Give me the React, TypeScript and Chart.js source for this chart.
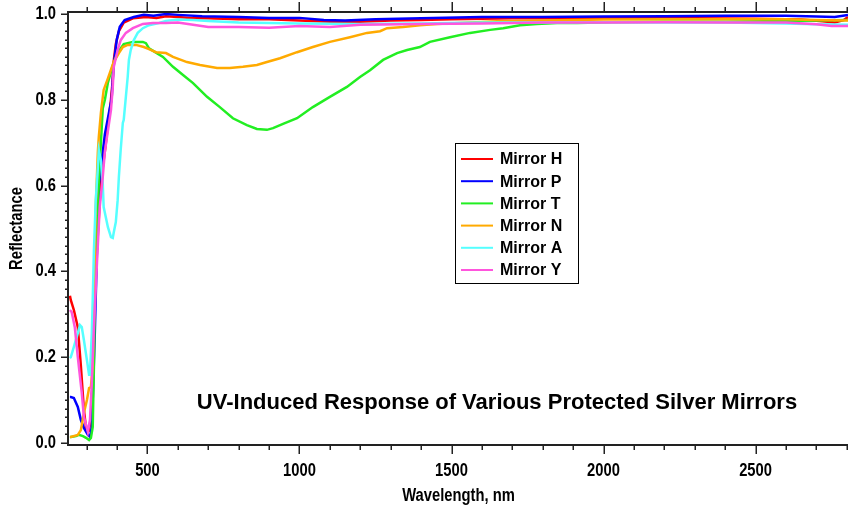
import React, { useEffect, useRef } from 'react';
import { Chart, registerables } from 'chart.js';

Chart.register(...registerables);

// ---------- data ----------
const seriesNames = ['Mirror H', 'Mirror P', 'Mirror T', 'Mirror N', 'Mirror A', 'Mirror Y'];
const seriesColors = ['#ff0000', '#0000ff', '#22ee22', '#ffaa00', '#55ffff', '#ff55dd'];

const wlH = [245, 248, 258, 271, 281, 291, 298, 308, 314, 320, 324, 327, 334, 347, 360, 370, 380, 385, 389, 396, 406, 422, 452, 495, 530, 561, 600, 650, 700, 800, 900, 1000, 1100, 1200, 1300, 1400, 1500, 1700, 2000, 2300, 2500, 2650, 2720, 2760, 2790, 2804];
const rH = [0.343, 0.333, 0.31, 0.27, 0.18, 0.077, 0.035, 0.03, 0.06, 0.14, 0.26, 0.33, 0.45, 0.61, 0.68, 0.74, 0.8, 0.84, 0.89, 0.93, 0.96, 0.98, 0.99, 0.993, 0.991, 0.995, 0.993, 0.99, 0.99, 0.988, 0.988, 0.985, 0.982, 0.982, 0.985, 0.986, 0.988, 0.99, 0.99, 0.99, 0.989, 0.987, 0.983, 0.98, 0.986, 0.993];

const wlP = [245, 248, 258, 271, 281, 291, 304, 311, 317, 320, 327, 334, 340, 360, 376, 382, 389, 399, 409, 425, 455, 488, 520, 561, 600, 680, 800, 900, 1000, 1080, 1150, 1250, 1400, 1600, 1800, 2000, 2200, 2400, 2600, 2700, 2760, 2804];
const rP = [0.107, 0.107, 0.105, 0.084, 0.054, 0.035, 0.019, 0.014, 0.037, 0.1, 0.26, 0.45, 0.6, 0.72, 0.78, 0.8, 0.88, 0.94, 0.97, 0.986, 0.993, 0.998, 0.996, 1.0, 0.998, 0.995, 0.993, 0.991, 0.991, 0.986, 0.985, 0.988, 0.99, 0.993, 0.993, 0.994, 0.995, 0.996, 0.996, 0.994, 0.993, 0.998];

const wlT = [245, 248, 265, 274, 288, 298, 308, 314, 320, 324, 327, 330, 337, 340, 353, 360, 370, 386, 402, 422, 452, 485, 495, 505, 528, 551, 584, 617, 650, 696, 738, 781, 827, 860, 893, 913, 946, 992, 1044, 1100, 1156, 1199, 1232, 1275, 1321, 1354, 1396, 1429, 1495, 1561, 1627, 1670, 1725, 1781, 1847, 1913, 2021, 2200, 2400, 2600, 2700, 2804];
const rT = [0.014, 0.014, 0.016, 0.019, 0.016, 0.012, 0.007, 0.012, 0.037, 0.18, 0.33, 0.45, 0.53, 0.61, 0.78, 0.8, 0.84, 0.88, 0.91, 0.93, 0.935, 0.935, 0.932, 0.92, 0.91, 0.9, 0.877, 0.858, 0.839, 0.807, 0.783, 0.757, 0.741, 0.732, 0.73, 0.734, 0.744, 0.757, 0.783, 0.807, 0.83, 0.853, 0.869, 0.893, 0.909, 0.916, 0.923, 0.935, 0.946, 0.956, 0.963, 0.967, 0.974, 0.977, 0.979, 0.979, 0.981, 0.982, 0.982, 0.984, 0.985, 0.986];

const wlN = [245, 248, 271, 281, 291, 301, 308, 314, 320, 324, 330, 337, 340, 347, 356, 370, 380, 389, 406, 419, 435, 462, 488, 505, 528, 561, 584, 630, 673, 729, 771, 814, 860, 893, 936, 992, 1044, 1100, 1166, 1222, 1265, 1288, 1341, 1396, 1452, 1528, 1650, 1800, 2000, 2200, 2400, 2600, 2700, 2804];
const rN = [0.014, 0.014, 0.019, 0.03, 0.07, 0.1, 0.128, 0.13, 0.18, 0.33, 0.55, 0.68, 0.713, 0.77, 0.823, 0.85, 0.87, 0.888, 0.909, 0.923, 0.928, 0.928, 0.923, 0.918, 0.911, 0.909, 0.9, 0.888, 0.881, 0.874, 0.874, 0.877, 0.881, 0.888, 0.897, 0.911, 0.923, 0.935, 0.946, 0.956, 0.96, 0.967, 0.97, 0.974, 0.977, 0.979, 0.983, 0.985, 0.987, 0.988, 0.988, 0.988, 0.986, 0.985];

const wlA = [245, 248, 258, 271, 278, 284, 291, 301, 308, 311, 317, 320, 324, 330, 337, 340, 347, 353, 356, 370, 380, 386, 389, 396, 402, 406, 412, 419, 422, 429, 435, 439, 445, 455, 468, 485, 505, 538, 561, 600, 650, 700, 800, 900, 1000, 1200, 1400, 1600, 1800, 2000, 2200, 2400, 2600, 2700, 2804];
const rA = [0.198, 0.2, 0.224, 0.256, 0.275, 0.27, 0.24, 0.193, 0.159, 0.163, 0.256, 0.333, 0.45, 0.566, 0.643, 0.683, 0.66, 0.606, 0.55, 0.503, 0.48, 0.478, 0.49, 0.515, 0.566, 0.62, 0.683, 0.746, 0.753, 0.807, 0.853, 0.893, 0.916, 0.939, 0.956, 0.967, 0.974, 0.979, 0.984, 0.987, 0.986, 0.984, 0.98, 0.979, 0.978, 0.977, 0.978, 0.98, 0.98, 0.981, 0.98, 0.98, 0.978, 0.976, 0.975];

const wlY = [245, 251, 261, 271, 284, 291, 301, 304, 311, 317, 324, 334, 343, 353, 360, 380, 386, 389, 402, 412, 429, 452, 485, 518, 561, 600, 650, 700, 800, 900, 1000, 1100, 1200, 1400, 1600, 1800, 2000, 2200, 2400, 2600, 2700, 2750, 2804];
const rY = [0.31, 0.305, 0.27, 0.2, 0.117, 0.061, 0.035, 0.026, 0.054, 0.14, 0.27, 0.42, 0.55, 0.62, 0.68, 0.776, 0.83, 0.876, 0.916, 0.939, 0.956, 0.967, 0.977, 0.979, 0.979, 0.98, 0.975, 0.97, 0.97, 0.968, 0.972, 0.97, 0.975, 0.977, 0.978, 0.98, 0.98, 0.981, 0.98, 0.98, 0.976, 0.972, 0.972];

const seriesWl = [wlH, wlP, wlT, wlN, wlA, wlY];
const seriesR = [rH, rP, rT, rN, rA, rY];

const xTickValues = [500, 1000, 1500, 2000, 2500];
const yTickValues = [0, 0.2, 0.4, 0.6, 0.8, 1.0];
const xMin = 242;
const xMax = 2804;
const yMin = -0.0047;
const yMax = 1.0047;
const xMinorStep = 100;
const yMinorStep = 0.02;

const chartTitle = 'UV-Induced Response of Various Protected Silver Mirrors';
const xTitle = 'Wavelength, nm';
const yTitle = 'Reflectance';

// ---------- styling ----------
const SANS = "'Liberation Sans', Arial, sans-serif";
const AXIS_COLOR = '#222222';
const NARROW_SCALE = 0.82;

function narrowText(ctx: CanvasRenderingContext2D, text: string, x: number, y: number, align: CanvasTextAlign, rotate = false) {
  ctx.save();
  ctx.translate(x, y);
  if (rotate) ctx.rotate(-Math.PI / 2);
  ctx.scale(NARROW_SCALE, 1);
  ctx.textAlign = align;
  ctx.textBaseline = 'middle';
  ctx.fillText(text, 0, 0);
  ctx.restore();
}

const decorPlugin = {
  id: 'decor',
  afterDraw(chart: any) {
    const { ctx, chartArea: a, scales } = chart;
    const xs = scales.x;
    const ys = scales.y;
    ctx.save();
    ctx.strokeStyle = AXIS_COLOR;
    ctx.lineWidth = 2;
    ctx.beginPath();
    ctx.moveTo(a.left - 1, a.top - 1);
    ctx.lineTo(a.left - 1, a.bottom + 1);
    ctx.moveTo(a.left - 2, a.bottom);
    ctx.lineTo(a.right, a.bottom);
    ctx.moveTo(a.left - 2, a.top);
    ctx.lineTo(a.right, a.top);
    ctx.stroke();

    ctx.lineWidth = 1.5;
    ctx.beginPath();
    const firstX = Math.ceil(xMin / xMinorStep) * xMinorStep;
    for (let v = firstX; v <= xMax; v += xMinorStep) {
      const px = Math.round(xs.getPixelForValue(v)) + 0.25;
      const major = xTickValues.includes(v);
      ctx.moveTo(px, a.bottom);
      ctx.lineTo(px, a.bottom + (major ? 9 : 5));
      ctx.moveTo(px, a.top);
      ctx.lineTo(px, a.top - (major ? 10 : 5));
    }
    const nY = Math.round(1 / yMinorStep);
    for (let i = 0; i <= nY; i++) {
      const v = i * yMinorStep;
      const py = Math.round(ys.getPixelForValue(v)) + 0.25;
      const major = i % 10 === 0;
      ctx.moveTo(a.left, py);
      ctx.lineTo(a.left - (major ? 8 : 4), py);
    }
    ctx.stroke();

    // tick labels and axis titles
    ctx.fillStyle = '#000000';
    ctx.font = `bold 18px ${SANS}`;
    xTickValues.forEach((v) => {
      narrowText(ctx, String(v), xs.getPixelForValue(v), 471, 'center');
    });
    yTickValues.forEach((v) => {
      narrowText(ctx, v.toFixed(1), 56, ys.getPixelForValue(v), 'right');
    });
    narrowText(ctx, xTitle, (a.left + a.right) / 2, 496, 'center');
    narrowText(ctx, yTitle, 17, (a.top + a.bottom) / 2, 'center', true);

    // legend
    const lx = 455, ly = 143, lw = 123, lh = 140, rowH = 22.2;
    ctx.fillStyle = '#ffffff';
    ctx.fillRect(lx, ly, lw, lh);
    ctx.strokeStyle = '#000000';
    ctx.lineWidth = 1;
    ctx.strokeRect(lx + 0.5, ly + 0.5, lw, lh);
    ctx.font = `bold 16px ${SANS}`;
    ctx.textBaseline = 'middle';
    ctx.textAlign = 'left';
    chart.data.datasets.forEach((ds: any, i: number) => {
      const yy = ly + 16 + i * rowH;
      ctx.strokeStyle = ds.borderColor;
      ctx.lineWidth = 2;
      ctx.beginPath();
      ctx.moveTo(lx + 6, yy);
      ctx.lineTo(lx + 38, yy);
      ctx.stroke();
      ctx.fillStyle = '#000000';
      ctx.fillText(ds.label, lx + 45, yy + 1);
    });

    // in-plot title
    ctx.font = `bold 22px ${SANS}`;
    ctx.fillStyle = '#000000';
    ctx.textAlign = 'center';
    ctx.textBaseline = 'middle';
    ctx.fillText(chartTitle, 497, 403);
    ctx.restore();
  },
};

function fixBox(size: 'width' | 'height', value: number) {
  return (scale: any) => {
    scale[size] = value;
    scale.paddingLeft = 0;
    scale.paddingRight = 0;
    scale.paddingTop = 0;
    scale.paddingBottom = 0;
  };
}

export default function App() {
  const canvasRef = useRef<HTMLCanvasElement | null>(null);

  useEffect(() => {
    const canvas = canvasRef.current;
    if (!canvas) return;
    const datasets = seriesNames.map((name, i) => ({
      label: name,
      data: seriesWl[i].map((w, j) => ({ x: w, y: seriesR[i][j] })),
      borderColor: seriesColors[i],
      backgroundColor: seriesColors[i],
      borderWidth: 2.5,
      pointRadius: 0,
      fill: false,
      tension: 0,
      order: seriesNames.length - i,
    }));

    const chart = new Chart(canvas, {
      type: 'line',
      data: { datasets },
      plugins: [decorPlugin],
      options: {
        animation: false,
        responsive: false,
        maintainAspectRatio: false,
        layout: { padding: { top: 12, right: 0, left: 0, bottom: 0 } },
        plugins: {
          legend: { display: false },
          tooltip: { enabled: false },
          title: { display: false },
        },
        scales: {
          x: {
            type: 'linear',
            position: 'bottom',
            min: xMin,
            max: xMax,
            grid: { display: false, drawTicks: false },
            border: { display: false },
            ticks: { display: false },
            afterBuildTicks: (scale: any) => {
              scale.ticks = xTickValues.map((v) => ({ value: v }));
            },
            afterFit: fixBox('height', 62),
          },
          y: {
            type: 'linear',
            position: 'left',
            min: yMin,
            max: yMax,
            grid: { display: false, drawTicks: false },
            border: { display: false },
            ticks: { display: false },
            afterBuildTicks: (scale: any) => {
              scale.ticks = yTickValues.map((v) => ({ value: v }));
            },
            afterFit: fixBox('width', 69),
          },
        },
      } as any,
    });
    return () => chart.destroy();
  }, []);

  return (
    <div style={{ position: 'fixed', left: 0, top: 0, width: 848, height: 507, background: '#ffffff' }}>
      <canvas ref={canvasRef} width={848} height={507} style={{ display: 'block', width: 848, height: 507 }} />
    </div>
  );
}
